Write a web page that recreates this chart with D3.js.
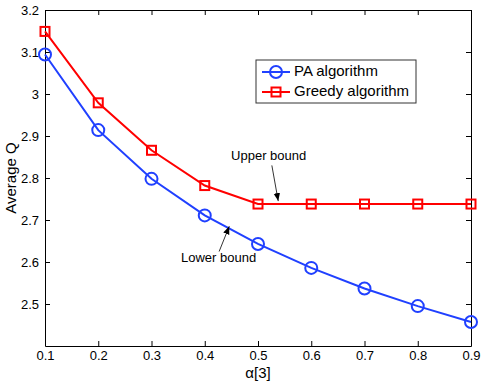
<!DOCTYPE html>
<html>
<head>
<meta charset="utf-8">
<script src="https://cdn.jsdelivr.net/npm/d3@7"></script>
<style>
  body { margin: 0; background: #fff; }
  svg { font-family: Arial, "Liberation Sans", sans-serif; }
</style>
</head>
<body>
<div class="chart"></div>
<script>
// alpha[3] vs average Q, two algorithms

var alphas = [0.1, 0.2, 0.3, 0.4, 0.5, 0.6, 0.7, 0.8, 0.9];
var paValues = [3.094, 2.914, 2.798, 2.711, 2.643, 2.586, 2.537, 2.495, 2.457];
var greedyValues = [3.149, 2.979, 2.866, 2.782, 2.738, 2.738, 2.738, 2.738, 2.738];
var seriesNames = ["PA algorithm", "Greedy algorithm"];
var xTicks = [0.1, 0.2, 0.3, 0.4, 0.5, 0.6, 0.7, 0.8, 0.9];
var yTicks = [2.5, 2.6, 2.7, 2.8, 2.9, 3, 3.1, 3.2];

var width = 485, height = 388;
var margin = {top: 10, right: 14, bottom: 42, left: 45};
var w = width - margin.left - margin.right,
    h = height - margin.top - margin.bottom;

var blue = "#2040ff", red = "#ff0000";

/* scales */
var x = d3.scaleLinear().domain([0.1, 0.9]).range([0, w]);
var y = d3.scaleLinear().domain([2.4, 3.2]).range([h, 0]);

var svg = d3.select(".chart").append("svg")
    .attr("width", width)
    .attr("height", height)
  .append("g")
    .attr("transform", "translate(" + margin.left + "," + margin.top + ")");

/* axes (ticks inward, box on all sides) */
var fmt = function(d) { return d3.format("")(+d.toFixed(1)); };

var gx = svg.append("g")
    .attr("transform", "translate(0," + h + ")")
    .call(d3.axisBottom(x).tickValues(xTicks).tickSizeInner(-5).tickSizeOuter(0).tickPadding(5).tickFormat(fmt));
var gy = svg.append("g")
    .call(d3.axisLeft(y).tickValues(yTicks).tickSizeInner(-5).tickSizeOuter(0).tickPadding(6).tickFormat(fmt));
var gt = svg.append("g")
    .call(d3.axisTop(x).tickValues(xTicks).tickSizeInner(-5).tickSizeOuter(0).tickFormat(""));
var gr = svg.append("g")
    .attr("transform", "translate(" + w + ",0)")
    .call(d3.axisRight(y).tickValues(yTicks).tickSizeInner(-5).tickSizeOuter(0).tickFormat(""));

[gx, gy, gt, gr].forEach(function(g) {
  g.select(".domain").attr("stroke", "#000").attr("stroke-width", 1);
  g.selectAll(".tick line").attr("stroke", "#000");
  g.selectAll("text").attr("font-size", 13).attr("fill", "#000")
    .attr("font-family", "Arial, 'Liberation Sans', sans-serif");
});

// axis labels
svg.append("text")
    .attr("x", x(0.5))
    .attr("y", h + 32)
    .attr("text-anchor", "middle")
    .attr("font-size", 15)
    .text("α[3]");

svg.append("text")
    .attr("transform", "translate(" + (-33) + "," + y(2.8) + ") rotate(-90)")
    .attr("text-anchor", "middle")
    .attr("dominant-baseline", "middle")
    .attr("font-size", 15)
    .text("Average Q");

/* lines */
var line = d3.line()
    .x(function(d) { return x(d[0]); })
    .y(function(d) { return y(d[1]); });

var paData = alphas.map(function(a, i) { return [a, paValues[i]]; });
var greedyData = alphas.map(function(a, i) { return [a, greedyValues[i]]; });

var plot = svg.append("g");

plot.append("path").datum(greedyData)
    .attr("d", line).attr("fill", "none")
    .attr("stroke", red).attr("stroke-width", 2);
plot.selectAll(".sq").data(greedyData).enter().append("rect")
    .attr("class", "sq")
    .attr("x", function(d) { return x(d[0]) - 4.5; })
    .attr("y", function(d) { return y(d[1]) - 4.5; })
    .attr("width", 9).attr("height", 9)
    .attr("fill", "none").attr("stroke", red).attr("stroke-width", 2);

plot.append("path").datum(paData)
    .attr("d", line).attr("fill", "none")
    .attr("stroke", blue).attr("stroke-width", 2);
plot.selectAll(".ci").data(paData).enter().append("circle")
    .attr("class", "ci")
    .attr("cx", function(d) { return x(d[0]); })
    .attr("cy", function(d) { return y(d[1]); })
    .attr("r", 6)
    .attr("fill", "none").attr("stroke", blue).attr("stroke-width", 2);

/* annotations */
var defs = svg.append("defs");
defs.append("marker")
    .attr("id", "arrow")
    .attr("viewBox", "0 0 10 10")
    .attr("refX", 10).attr("refY", 5)
    .attr("markerWidth", 8).attr("markerHeight", 8)
    .attr("markerUnits", "userSpaceOnUse")
    .attr("orient", "auto")
  .append("path")
    .attr("d", "M0,1 L10,5 L0,9 Z")
    .attr("fill", "#000");

var notes = [
  {text: "Upper bound", tx: 0.52, ty: 2.85, x1: 0.526, y1: 2.83, x2: 0.538, y2: 2.745},
  {text: "Lower bound", tx: 0.426, ty: 2.607, x1: 0.427, y1: 2.625, x2: 0.446, y2: 2.685}
];
notes.forEach(function(n) {
  svg.append("text")
      .attr("x", x(n.tx)).attr("y", y(n.ty))
      .attr("text-anchor", "middle")
      .attr("dominant-baseline", "middle")
      .attr("font-size", 13)
      .text(n.text);
  svg.append("line")
      .attr("x1", x(n.x1)).attr("y1", y(n.y1))
      .attr("x2", x(n.x2)).attr("y2", y(n.y2))
      .attr("stroke", "#000").attr("stroke-width", 0.8)
      .attr("marker-end", "url(#arrow)");
});

/* legend */
var legend = svg.append("g")
    .attr("transform", "translate(" + (x(0.5) - 2) + "," + 50 + ")");
legend.append("rect")
    .attr("width", 160).attr("height", 43)
    .attr("fill", "#fff").attr("stroke", "#333").attr("stroke-width", 1);

[blue, red].forEach(function(c, i) {
  var ly = 12 + i * 20;
  legend.append("line")
      .attr("x1", 6).attr("x2", 34).attr("y1", ly).attr("y2", ly)
      .attr("stroke", c).attr("stroke-width", 2);
  if (i === 0) {
    legend.append("circle").attr("cx", 20).attr("cy", ly).attr("r", 6)
        .attr("fill", "none").attr("stroke", c).attr("stroke-width", 2);
  } else {
    legend.append("rect").attr("x", 15.5).attr("y", ly - 4.5).attr("width", 9).attr("height", 9)
        .attr("fill", "none").attr("stroke", c).attr("stroke-width", 2);
  }
  legend.append("text")
      .attr("x", 38).attr("y", ly)
      .attr("dominant-baseline", "middle")
      .attr("font-size", 15)
      .text(seriesNames[i]);
});
</script>
</body>
</html>
